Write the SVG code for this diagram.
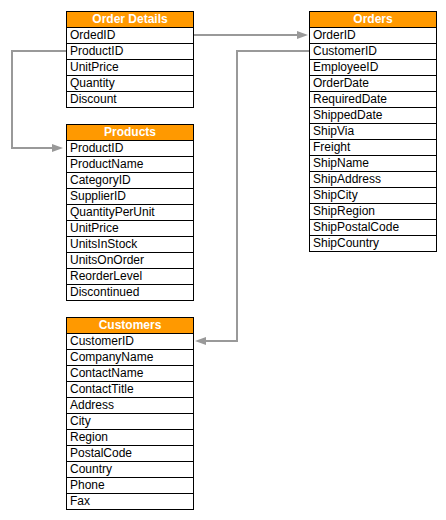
<svg xmlns="http://www.w3.org/2000/svg" width="446" height="520" viewBox="0 0 446 520">
<defs>
<style>
.box{fill:#fff;stroke:#000;stroke-width:1}
.hdr{fill:#ff9900;stroke:#000;stroke-width:1}
.row{fill:none;stroke:#000;stroke-width:1}
.ht{font-family:"Liberation Sans",Arial,sans-serif;font-size:12px;font-weight:bold;fill:#fff;text-anchor:middle}
.t{font-family:"Liberation Sans",Arial,sans-serif;font-size:12px;fill:#000}
.c{fill:none;stroke:#999;stroke-width:2}
</style>
<marker id="ah" markerUnits="userSpaceOnUse" markerWidth="12" markerHeight="10" refX="1" refY="4" orient="auto">
<path d="M0,0 L11,4 L0,8 z" fill="#999"/>
</marker>
</defs>
<rect width="446" height="520" fill="#fff"/>
<g id="connectors">
<path class="c" d="M193 35 H298" marker-end="url(#ah)"/>
<path class="c" d="M66 51 H12 V148 H53" marker-end="url(#ah)"/>
<path class="c" d="M309 51 H237 V341 H205" marker-end="url(#ah)"/>
</g>
<g id="order-details">
<rect class="box" x="66.5" y="11.5" width="127" height="96"/>
<rect class="hdr" x="66.5" y="11.5" width="127" height="16"/>
<text class="ht" x="130" y="23">Order Details</text>
<path class="row" d="M66.5 43.5H193.5M66.5 59.5H193.5M66.5 75.5H193.5M66.5 91.5H193.5"/>
<text class="t" x="70" y="39">OrdedID</text>
<text class="t" x="70" y="55">ProductID</text>
<text class="t" x="70" y="71">UnitPrice</text>
<text class="t" x="70" y="87">Quantity</text>
<text class="t" x="70" y="103">Discount</text>
</g>
<g id="orders">
<rect class="box" x="309.5" y="11.5" width="127" height="240"/>
<rect class="hdr" x="309.5" y="11.5" width="127" height="16"/>
<text class="ht" x="373" y="23">Orders</text>
<path class="row" d="M309.5 43.5H436.5M309.5 59.5H436.5M309.5 75.5H436.5M309.5 91.5H436.5M309.5 107.5H436.5M309.5 123.5H436.5M309.5 139.5H436.5M309.5 155.5H436.5M309.5 171.5H436.5M309.5 187.5H436.5M309.5 203.5H436.5M309.5 219.5H436.5M309.5 235.5H436.5"/>
<text class="t" x="313" y="39">OrderID</text>
<text class="t" x="313" y="55">CustomerID</text>
<text class="t" x="313" y="71">EmployeeID</text>
<text class="t" x="313" y="87">OrderDate</text>
<text class="t" x="313" y="103">RequiredDate</text>
<text class="t" x="313" y="119">ShippedDate</text>
<text class="t" x="313" y="135">ShipVia</text>
<text class="t" x="313" y="151">Freight</text>
<text class="t" x="313" y="167">ShipName</text>
<text class="t" x="313" y="183">ShipAddress</text>
<text class="t" x="313" y="199">ShipCity</text>
<text class="t" x="313" y="215">ShipRegion</text>
<text class="t" x="313" y="231">ShipPostalCode</text>
<text class="t" x="313" y="247">ShipCountry</text>
</g>
<g id="products">
<rect class="box" x="66.5" y="124.5" width="127" height="176"/>
<rect class="hdr" x="66.5" y="124.5" width="127" height="16"/>
<text class="ht" x="130" y="136">Products</text>
<path class="row" d="M66.5 156.5H193.5M66.5 172.5H193.5M66.5 188.5H193.5M66.5 204.5H193.5M66.5 220.5H193.5M66.5 236.5H193.5M66.5 252.5H193.5M66.5 268.5H193.5M66.5 284.5H193.5"/>
<text class="t" x="70" y="152">ProductID</text>
<text class="t" x="70" y="168">ProductName</text>
<text class="t" x="70" y="184">CategoryID</text>
<text class="t" x="70" y="200">SupplierID</text>
<text class="t" x="70" y="216">QuantityPerUnit</text>
<text class="t" x="70" y="232">UnitPrice</text>
<text class="t" x="70" y="248">UnitsInStock</text>
<text class="t" x="70" y="264">UnitsOnOrder</text>
<text class="t" x="70" y="280">ReorderLevel</text>
<text class="t" x="70" y="296">Discontinued</text>
</g>
<g id="customers">
<rect class="box" x="66.5" y="317.5" width="127" height="192"/>
<rect class="hdr" x="66.5" y="317.5" width="127" height="16"/>
<text class="ht" x="130" y="329">Customers</text>
<path class="row" d="M66.5 349.5H193.5M66.5 365.5H193.5M66.5 381.5H193.5M66.5 397.5H193.5M66.5 413.5H193.5M66.5 429.5H193.5M66.5 445.5H193.5M66.5 461.5H193.5M66.5 477.5H193.5M66.5 493.5H193.5"/>
<text class="t" x="70" y="345">CustomerID</text>
<text class="t" x="70" y="361">CompanyName</text>
<text class="t" x="70" y="377">ContactName</text>
<text class="t" x="70" y="393">ContactTitle</text>
<text class="t" x="70" y="409">Address</text>
<text class="t" x="70" y="425">City</text>
<text class="t" x="70" y="441">Region</text>
<text class="t" x="70" y="457">PostalCode</text>
<text class="t" x="70" y="473">Country</text>
<text class="t" x="70" y="489">Phone</text>
<text class="t" x="70" y="505">Fax</text>
</g>
</svg>
